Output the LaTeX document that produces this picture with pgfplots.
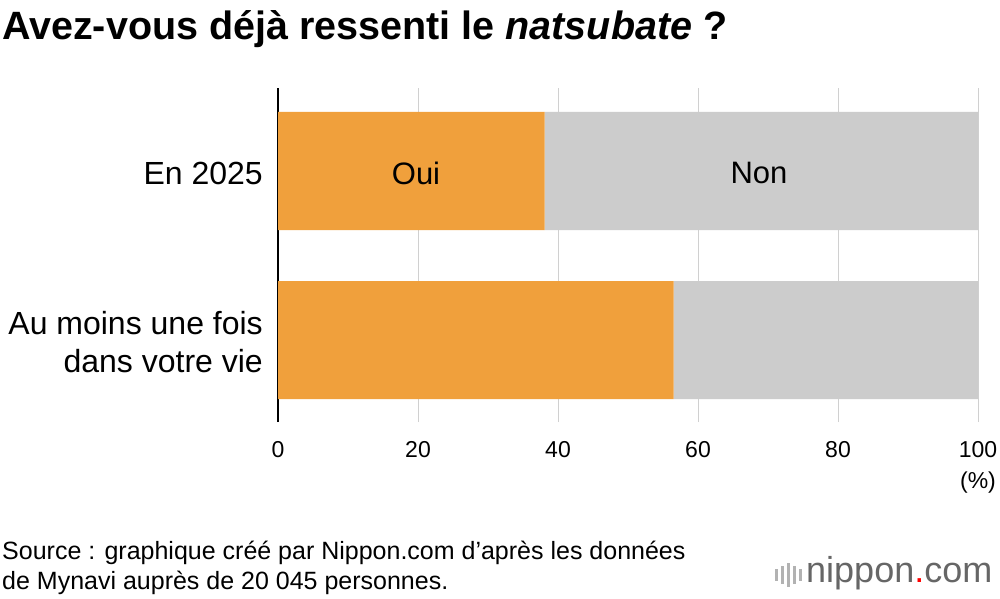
\documentclass[border=0pt]{standalone}
\usepackage{pgfplots}
\pgfplotsset{compat=1.18}
\usepackage{fontspec}
\setmainfont{Liberation Sans}
\definecolor{oui}{HTML}{F0A03C}
\definecolor{non}{HTML}{CCCCCC}
\definecolor{gridc}{HTML}{D0D0D0}
\begin{document}
\begin{tikzpicture}[x=1pt,y=1pt]
\useasboundingbox (0,0) rectangle (1000,598);
\fill[white] (0,0) rectangle (1000,598);
\node[anchor=west,inner sep=0pt,font=\bfseries\fontsize{39.5}{44}\selectfont] at (2,569) {Avez-vous déjà ressenti le \textit{natsubate} ?};
\begin{axis}[at={(278pt,176pt)},anchor=south west,scale only axis,width=700pt,height=334pt,
  xmin=0,xmax=100,ymin=0,ymax=334,xbar stacked,bar width=118pt,
  axis x line*=bottom, x axis line style={draw=none},
  axis y line*=left, y axis line style={line width=1.2pt},
  ytick={82,251},yticklabels={},ytick style={draw=none},
  xtick={0,20,40,60,80,100},xtick style={draw=none},
  xticklabel style={font=\fontsize{23}{26}\selectfont,yshift=-16pt},
  /pgf/number format/assume math mode=true,
  xmajorgrids, grid style={gridc,line width=1pt},
  clip=false]
\addplot[fill=oui,draw=none] coordinates {(38.1,251) (56.5,82)};
\addplot[fill=non,draw=none] coordinates {(61.9,251) (43.5,82)};
\end{axis}
\node[font=\fontsize{31}{34}\selectfont] at (416,425) {Oui};
\node[font=\fontsize{31}{34}\selectfont] at (759,425) {Non};
\node[anchor=east,inner sep=0pt,font=\fontsize{32}{36}\selectfont] at (263,425) {En 2025};
\node[anchor=east,align=right,inner sep=0pt,font=\fontsize{32}{38}\selectfont] at (263,256) {Au moins une fois\\dans votre vie};
\node[font=\fontsize{23}{26}\selectfont] at (978,115) {(\%)};
\node[anchor=north west,inner sep=0pt,align=left,font=\fontsize{25}{30}\selectfont] at (2,57) {Source : graphique créé par Nippon.com d’après les données\\de Mynavi auprès de 20 045 personnes.};
\fill[gray!60] (775,17) rectangle (778,29);
\fill[gray!60] (781,14) rectangle (784,32);
\fill[gray!60] (787,11) rectangle (790,35);
\fill[gray!60] (793,14) rectangle (796,32);
\fill[gray!60] (799,17) rectangle (802,29);
\node[anchor=west,inner sep=0pt,font=\fontsize{36}{40}\selectfont,text=gray!80!black] at (806,25) {nippon\textcolor{red}{.}com};
\end{tikzpicture}
\end{document}
